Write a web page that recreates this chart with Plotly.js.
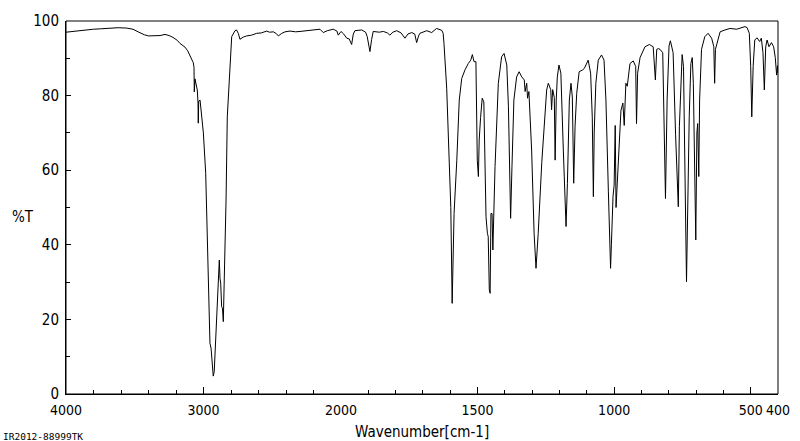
<!DOCTYPE html>
<html>
<head>
<meta charset="utf-8">
<script src="https://cdn.plot.ly/plotly-3.0.1.min.js"></script>
<style>html,body{margin:0;padding:0;background:#fff;}#chart{width:800px;height:441px;}</style>
</head>
<body>
<div id="chart"></div>
<script>
// High-wavenumber segment (4000-2000 cm-1), compressed scale
var wnHigh = [4000,3950,3900,3850,3800,3750,3700,3658,3620,3560,3513,3470,3430,3400,3350,3316,3280,3250,3222,3190,3171,3147,3135,3115,3098,3085,3074,3069,3067,3062,3055,3045,3040,3038,3035,3025,3015,3001,2984,2972,2960,2953,2945,2938,2929,2922,2916,2900,2890,2885,2880,2875,2868,2862,2856,2849,2836,2827,2812,2795,2771,2760,2747,2735,2710,2686,2650,2613,2580,2540,2520,2492,2470,2456,2430,2407,2371,2330,2298,2250,2202,2153,2129,2100,2056,2030,2020,2000];
var tHigh  = [97.0,97.2,97.5,97.6,97.8,97.9,98.0,98.0,98.2,98.1,97.8,97.0,96.3,96.0,96.0,96.1,96.4,96.1,95.6,94.8,94.0,93.2,93.0,92.0,90.5,89.5,88.8,87.5,81.0,84.5,83.3,81.5,78.0,72.6,78.5,78.8,75.0,70.0,59.2,43.1,19.8,13.6,12.3,9.0,4.8,6.0,10.9,21.6,30.0,35.9,31.0,29.7,23.4,23.0,19.4,29.7,52.0,74.3,86.0,95.8,97.4,97.6,96.7,95.1,95.7,96.0,96.2,96.7,96.8,97.3,97.0,97.1,96.6,96.0,96.7,97.1,97.3,97.1,97.2,97.4,97.6,97.8,96.9,97.4,97.8,97.3,96.2,97.2];

// Low-wavenumber segment (2000-400 cm-1), expanded scale
var wnLow = [2000,1990,1979,1970,1961,1955,1949,1924,1910,1904,1897,1894,1888,1882,1860,1845,1830,1821,1810,1796,1780,1766,1755,1741,1730,1723,1716,1711,1686,1668,1650,1638,1631,1626,1623,1613,1604,1598,1593,1586,1576,1567,1558,1546,1534,1525,1519,1513,1506,1501,1497,1494,1489,1483,1477,1469,1464,1461,1457,1454,1451,1447,1444,1436,1424,1412,1403,1393,1387,1381,1379,1374,1367,1357,1348,1338,1329,1326,1320,1317,1312,1302,1293,1286,1278,1265,1253,1247,1241,1232,1229,1225,1219,1216,1212,1208,1202,1195,1186,1180,1176,1171,1164,1158,1153,1148,1143,1137,1128,1115,1109,1095,1086,1080,1076,1073,1067,1058,1046,1037,1030,1021,1015,1013,1010,1007,1004,1000,996,993,990,986,980,975,968,963,957,952,942,930,921,918,914,905,887,871,862,857,849,844,838,832,822,818,812,806,799,794,784,775,768,765,761,753,751,746,741,737,735,730,725,719,714,710,705,701,697,694,690,687,680,668,656,643,635,632,629,622,612,594,576,551,521,513,505,500,496,491,485,477,467,461,455,450,445,440,433,424,416,410,405,402,400];
var tLow  = [97.2,96.5,95.4,95.2,93.7,96.5,97.4,97.6,97.0,95.8,93.0,91.8,95.0,97.2,97.0,97.2,96.8,96.2,97.0,97.4,96.8,95.4,96.5,96.9,96.5,94.2,96.0,96.7,97.4,96.9,98.0,97.8,97.5,96.7,94.0,82.0,61.0,50.0,24.3,48.4,62.7,78.8,84.6,86.9,88.6,89.5,91.0,89.1,89.1,62.7,58.3,68.1,74.1,79.3,78.3,47.5,43.1,42.2,27.9,27.0,48.4,48.4,38.6,61.0,83.3,90.4,91.3,88.2,77.0,56.5,47.1,61.0,78.8,85.0,86.4,85.0,84.2,81.1,83.3,79.3,81.1,65.4,43.1,33.7,43.0,62.0,76.0,81.5,83.3,81.6,76.2,81.6,79.5,62.7,78.8,85.0,88.2,86.0,65.4,52.0,44.9,56.5,78.8,83.3,79.6,56.5,71.8,80.6,86.4,86.9,87.3,89.5,86.0,74.2,52.9,70.0,83.3,89.5,90.9,89.5,78.8,54.2,41.6,33.7,40.0,47.0,53.0,56.0,72.0,50.0,55.0,62.0,70.0,76.0,78.0,72.0,83.3,82.5,88.6,89.3,87.8,72.5,86.0,90.2,93.1,93.7,93.3,93.1,84.2,92.4,92.6,92.4,91.5,76.0,52.4,78.8,93.3,94.7,91.5,69.5,54.7,50.2,71.8,87.8,91.0,87.8,61.0,35.9,30.1,52.0,74.3,88.6,90.2,83.3,61.0,41.3,70.0,72.5,58.3,78.8,92.4,95.8,96.7,95.4,93.1,83.3,92.4,94.2,97.1,97.6,98.0,97.8,98.5,98.2,96.7,87.8,74.3,87.8,94.9,95.5,94.5,95.4,91.5,81.5,93.1,94.9,93.1,94.2,93.1,90.2,85.5,88.0,86.0];

var highTicks = [4000, 3000];
var lowTicks = [2000, 1500, 1000, 500, 400];
var yTicks = [0, 20, 40, 60, 80, 100];

var FONT = '"DejaVu Sans Condensed", "Liberation Sans Narrow", sans-serif';
var split = 275 / 712;

var line = {color: '#000', width: 1};
var traces = [
  {x: wnHigh, y: tHigh, type: 'scatter', mode: 'lines', line: line, xaxis: 'x', yaxis: 'y', hoverinfo: 'skip'},
  {x: wnLow, y: tLow, type: 'scatter', mode: 'lines', line: line, xaxis: 'x2', yaxis: 'y', hoverinfo: 'skip'}
];

var xTickFont = {family: FONT, size: 14, color: '#000'};
var yTickFont = {family: FONT, size: 15, color: '#000'};
var layout = {
  width: 800, height: 441,
  margin: {l: 66, r: 22, t: 21, b: 47, pad: 0},
  paper_bgcolor: '#fff', plot_bgcolor: '#fff',
  showlegend: false,
  xaxis: {
    domain: [0, split], range: [4000, 2000], anchor: 'y',
    tickmode: 'array', tickvals: highTicks, ticktext: highTicks.map(String), tickangle: 0,
    ticks: 'inside', ticklen: 7, tickwidth: 1, tickcolor: '#000',
    minor: {tickmode: 'linear', tick0: 0, dtick: 200, ticks: 'inside', ticklen: 4, tickwidth: 1, tickcolor: '#000', showgrid: false},
    showline: true, linecolor: '#000', linewidth: 1,
    showgrid: false, zeroline: false, tickfont: xTickFont, ticklabelstandoff: 3
  },
  xaxis2: {
    domain: [split, 1], range: [2000, 400], anchor: 'y',
    tickmode: 'array', tickvals: lowTicks, ticktext: lowTicks.map(String), tickangle: 0,
    ticks: 'inside', ticklen: 7, tickwidth: 1, tickcolor: '#000',
    minor: {tickmode: 'linear', tick0: 0, dtick: 100, ticks: 'inside', ticklen: 4, tickwidth: 1, tickcolor: '#000', showgrid: false},
    showline: true, linecolor: '#000', linewidth: 1,
    showgrid: false, zeroline: false, tickfont: xTickFont, ticklabelstandoff: 3
  },
  yaxis: {
    range: [0, 100], anchor: 'x',
    tickmode: 'array', tickvals: yTicks, ticktext: yTicks.map(String), tickangle: 0,
    ticks: 'inside', ticklen: 5, tickwidth: 1, tickcolor: '#000',
    minor: {tickmode: 'linear', tick0: 0, dtick: 10, ticks: 'inside', ticklen: 4, tickwidth: 1, tickcolor: '#000', showgrid: false},
    showline: true, linecolor: '#000', linewidth: 1,
    showgrid: false, zeroline: false, tickfont: yTickFont, ticklabelstandoff: 3
  },
  shapes: [
    {type: 'rect', xref: 'paper', yref: 'paper', x0: 0, x1: 1, y0: 0, y1: 1, line: {color: '#000', width: 1}, fillcolor: 'rgba(0,0,0,0)', layer: 'above'}
  ],
  annotations: [
    {text: '%T', xref: 'paper', yref: 'paper', x: (23 - 66) / 712, y: (394 - 217) / 373, xanchor: 'center', yanchor: 'middle', showarrow: false, font: {family: FONT, size: 15, color: '#000'}},
    {text: 'Wavenumber[cm-1]', xref: 'paper', yref: 'paper', x: 0.5, y: (394 - 432) / 373, xanchor: 'center', yanchor: 'middle', showarrow: false, font: {family: FONT, size: 15, color: '#000'}},
    {text: 'IR2012-88999TK', xref: 'paper', yref: 'paper', x: (1 - 66) / 712, y: (394 - 436) / 373, xanchor: 'left', yanchor: 'middle', showarrow: false, font: {family: '"DejaVu Sans Mono", monospace', size: 9.5, color: '#000'}}
  ]
};

Plotly.newPlot('chart', traces, layout, {staticPlot: true, displayModeBar: false});
</script>
</body>
</html>
